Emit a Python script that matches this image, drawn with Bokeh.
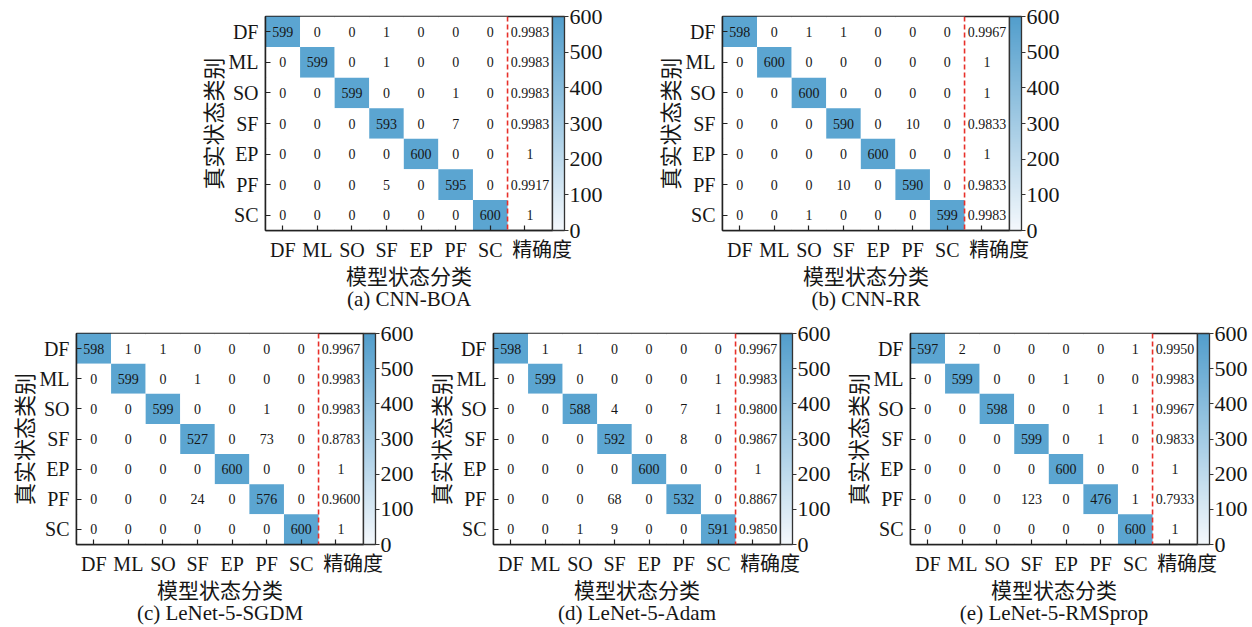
from bokeh.plotting import figure
from bokeh.models import (Range1d, FixedTicker, ColorBar, LinearColorMapper, Span,
                          Title, ColumnDataSource, Spacer)
from bokeh.layouts import row, column
from bokeh.embed import file_html
from bokeh.resources import INLINE

classes = ["DF", "ML", "SO", "SF", "EP", "PF", "SC"]
prec_label = "精确度"
x_title = "模型状态分类"
y_title = "真实状态类别"
cb_ticks = [0, 100, 200, 300, 400, 500, 600]

captions = ["(a) CNN-BOA", "(b) CNN-RR", "(c) LeNet-5-SGDM", "(d) LeNet-5-Adam", "(e) LeNet-5-RMSprop"]

cm_a = [[599, 0, 0, 1, 0, 0, 0],
        [0, 599, 0, 1, 0, 0, 0],
        [0, 0, 599, 0, 0, 1, 0],
        [0, 0, 0, 593, 0, 7, 0],
        [0, 0, 0, 0, 600, 0, 0],
        [0, 0, 0, 5, 0, 595, 0],
        [0, 0, 0, 0, 0, 0, 600]]
prec_a = ["0.9983", "0.9983", "0.9983", "0.9983", "1", "0.9917", "1"]

cm_b = [[598, 0, 1, 1, 0, 0, 0],
        [0, 600, 0, 0, 0, 0, 0],
        [0, 0, 600, 0, 0, 0, 0],
        [0, 0, 0, 590, 0, 10, 0],
        [0, 0, 0, 0, 600, 0, 0],
        [0, 0, 0, 10, 0, 590, 0],
        [0, 0, 1, 0, 0, 0, 599]]
prec_b = ["0.9967", "1", "1", "0.9833", "1", "0.9833", "0.9983"]

cm_c = [[598, 1, 1, 0, 0, 0, 0],
        [0, 599, 0, 1, 0, 0, 0],
        [0, 0, 599, 0, 0, 1, 0],
        [0, 0, 0, 527, 0, 73, 0],
        [0, 0, 0, 0, 600, 0, 0],
        [0, 0, 0, 24, 0, 576, 0],
        [0, 0, 0, 0, 0, 0, 600]]
prec_c = ["0.9967", "0.9983", "0.9983", "0.8783", "1", "0.9600", "1"]

cm_d = [[598, 1, 1, 0, 0, 0, 0],
        [0, 599, 0, 0, 0, 0, 1],
        [0, 0, 588, 4, 0, 7, 1],
        [0, 0, 0, 592, 0, 8, 0],
        [0, 0, 0, 0, 600, 0, 0],
        [0, 0, 0, 68, 0, 532, 0],
        [0, 0, 1, 9, 0, 0, 591]]
prec_d = ["0.9967", "0.9983", "0.9800", "0.9867", "1", "0.8867", "0.9850"]

cm_e = [[597, 2, 0, 0, 0, 0, 1],
        [0, 599, 0, 0, 1, 0, 0],
        [0, 0, 598, 0, 0, 1, 1],
        [0, 0, 0, 599, 0, 1, 0],
        [0, 0, 0, 0, 600, 0, 0],
        [0, 0, 0, 123, 0, 476, 1],
        [0, 0, 0, 0, 0, 0, 600]]
prec_e = ["0.9950", "0.9983", "0.9967", "0.9833", "1", "0.7933", "1"]

matrices = [cm_a, cm_b, cm_c, cm_d, cm_e]
precisions = [prec_a, prec_b, prec_c, prec_d, prec_e]

SERIF = "Liberation Serif, Noto Sans CJK SC"
CJK = "Noto Sans CJK SC"
BLUE = "#5ba5d1"
INK = "#161616"
AXC = "#222222"

# gradient palette for colour bar (white -> blue)
def lerp(c1, c2, t):
    return "#%02x%02x%02x" % tuple(int(round(a + (b - a) * t)) for a, b in zip(c1, c2))

c_lo = (244, 248, 252)
c_hi = (82, 158, 204)
bar_palette = [lerp(c_lo, c_hi, i / 255) for i in range(256)]
bar_mapper = LinearColorMapper(palette=bar_palette, low=0, high=600)
cell_mapper = LinearColorMapper(palette=["#ffffff", BLUE], low=0, high=600)

N = len(classes)
X_END = N + 1.3        # precision column is wider than the class columns
PREC_X = N + 0.65      # centre of the precision numbers
PREC_TICK = N + 0.5    # tick mark of the precision column
PREC_LABEL_X = N + 1.0 # centre of its label


def make_panel(cm, prec, caption, top, fh, bottom):
    xs, ys, vals, labels = [], [], [], []
    for i, rowv in enumerate(cm):
        for j, v in enumerate(rowv):
            xs.append(j + 0.5)
            ys.append(N - i - 0.5)
            vals.append(v)
            labels.append(str(v))
    src = ColumnDataSource(dict(x=xs, y=ys, v=vals, t=labels))
    psrc = ColumnDataSource(dict(x=[PREC_X] * N, y=[N - i - 0.5 for i in range(N)], t=prec))

    p = figure(frame_width=287, frame_height=fh, output_backend="svg", toolbar_location=None,
               x_range=Range1d(0, X_END), y_range=Range1d(0, N),
               min_border_left=76, min_border_right=54, min_border_top=top,
               min_border_bottom=bottom)
    p.rect(x="x", y="y", width=1, height=1, source=src,
           fill_color={"field": "v", "transform": cell_mapper}, line_color=None)
    p.text(x="x", y="y", text="t", source=src, text_align="center", text_baseline="middle",
           text_font_size="14px", text_font={"value": SERIF}, text_color=INK)
    p.text(x="x", y="y", text="t", source=psrc, text_align="center", text_baseline="middle",
           text_font_size="14px", text_font={"value": SERIF}, text_color=INK)
    p.add_layout(Span(location=N, dimension="height", line_color="#e8302a", line_width=1.6,
                      line_dash="5 3"))

    p.grid.visible = False
    label_pos = [j + 0.5 for j in range(N)] + [PREC_LABEL_X]
    mark_pos = [j + 0.5 for j in range(N)] + [PREC_TICK]
    p.xaxis.ticker = FixedTicker(ticks=label_pos, minor_ticks=mark_pos)
    p.xaxis.major_label_overrides = {pos: lab for pos, lab in zip(label_pos, classes + [prec_label])}
    p.xaxis.major_tick_in = 0
    p.xaxis.major_tick_out = 0
    p.xaxis.minor_tick_in = 5
    p.xaxis.minor_tick_out = 0
    p.xaxis.minor_tick_line_color = AXC
    p.xaxis.minor_tick_line_width = 1.2

    p.yaxis.ticker = FixedTicker(ticks=[N - i - 0.5 for i in range(N)])
    p.yaxis.major_label_overrides = {N - i - 0.5: lab for i, lab in enumerate(classes)}
    p.yaxis.major_tick_in = 5
    p.yaxis.major_tick_out = 0
    p.yaxis.minor_tick_line_color = None
    for ax in (p.xaxis, p.yaxis):
        ax.axis_line_width = 1.5
        ax.axis_line_color = AXC
        ax.major_tick_line_color = AXC
        ax.major_tick_line_width = 1.2
        ax.major_label_text_font = SERIF
        ax.major_label_text_font_size = "20px"
        ax.major_label_text_color = INK
        ax.axis_label_text_font = CJK
        ax.axis_label_text_font_style = "normal"
        ax.axis_label_text_color = INK
    p.xaxis.axis_label = x_title
    p.xaxis.axis_label_text_font_size = "21px"
    p.xaxis.major_label_standoff = 8
    p.xaxis.axis_label_standoff = -4
    p.yaxis.axis_label = y_title
    p.yaxis.axis_label_text_font_size = "22px"
    p.yaxis.major_label_standoff = 7
    p.yaxis.axis_label_standoff = -2
    p.outline_line_color = AXC
    p.outline_line_width = 1.5
    p.outline_line_alpha = 1

    cb = ColorBar(color_mapper=bar_mapper, ticker=FixedTicker(ticks=cb_ticks), width=12,
                  height=fh, margin=2, padding=0, bar_line_color="#333333", bar_line_width=1.3,
                  major_tick_in=0, major_tick_out=4, major_tick_line_color="#333333",
                  major_label_text_font=SERIF, major_label_text_font_size="22px",
                  major_label_text_color=INK, label_standoff=1,
                  border_line_color=None, background_fill_color=None)
    p.add_layout(cb, "right")

    t = Title(text=caption, align="center", text_font=SERIF, text_font_size="21px",
              text_font_style="normal", text_color=INK, standoff=-15)
    p.add_layout(t, "below")
    return p


figs = []
for k in range(5):
    if k < 2:
        figs.append(make_panel(matrices[k], precisions[k], captions[k], 16, 214, 90))
    else:
        figs.append(make_panel(matrices[k], precisions[k], captions[k], 13, 211, 83))

top_row = row(Spacer(width=189, height=10), figs[0], Spacer(width=40, height=10), figs[1])
bot_row = row(figs[2], figs[3], figs[4])
layout = column(top_row, bot_row, spacing=0)

open("out.html", "w").write(file_html(layout, INLINE))
